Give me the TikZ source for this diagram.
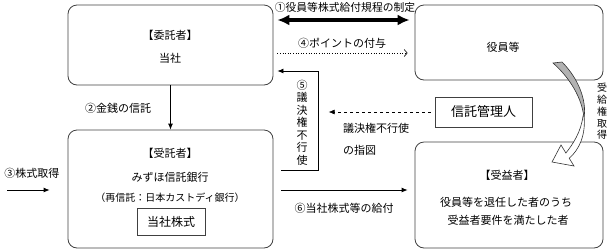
\documentclass[tikz,border=0pt]{standalone}
\usepackage{fontspec}
\setmainfont{Noto Sans CJK JP}
\usetikzlibrary{arrows.meta}

\begin{document}
\begin{tikzpicture}[x=1pt,y=-1pt,
  rbox/.style={draw=black!75,line width=0.8pt,rounded corners=9pt,inner sep=0pt},
  sbox/.style={draw=black!75,line width=0.7pt,inner sep=0pt},
  txt/.style={font=\fontsize{11}{13}\selectfont,inner sep=0pt},
  vtxt/.style={font=\fontsize{11}{12.5}\selectfont,align=center,inner sep=0pt},
  arr/.style={line width=0.8pt,-{Latex[length=6pt,width=5pt]}}]
\useasboundingbox (0,0) rectangle (613,250);

% boxes
\node[rbox,minimum width=205pt,minimum height=80pt] (itaku) at (170.5,45) {};
\node[rbox,minimum width=188pt,minimum height=75pt] (yakuin) at (509,42.5) {};
\node[rbox,minimum width=205pt,minimum height=118pt] (jutaku) at (170.5,189) {};
\node[rbox,minimum width=188pt,minimum height=106pt] (juekisha) at (509,195) {};
\node[sbox,minimum width=97pt,minimum height=30pt,font=\fontsize{13}{15}\selectfont] (kanri) at (483.5,112) {信託管理人};

% texts in boxes
\node[txt] (itaku-t1) at (170,35) {【委託者】};
\node[txt] (itaku-t2) at (170,58) {当社};
\node[txt] (yakuin-t) at (503,47) {役員等};
\node[txt] (jutaku-t1) at (170,153) {【受託者】};
\node[txt] (jutaku-t2) at (170,177) {みずほ信託銀行};
\node[txt,font=\fontsize{10}{12}\selectfont] (jutaku-t3) at (170,198) {（再信託：日本カストディ銀行）};
\node[sbox,minimum width=68pt,minimum height=27pt,font=\fontsize{12}{14}\selectfont] (kabu) at (171,221.5) {当社株式};
\node[txt] (jueki-t1) at (507,175) {【受益者】};
\node[txt] (jueki-t2) at (506,202) {役員等を退任した者のうち};
\node[txt] (jueki-t3) at (508,220) {受益者要件を満たした者};

% 1 and 4
\draw[line width=3.5pt,{Latex[length=12pt,width=11pt]}-{Latex[length=12pt,width=11pt]}]
  ([xshift=4pt]itaku.east |- 0,20) -- ([xshift=-5pt]yakuin.west |- 0,20);
\node[txt,font=\fontsize{10.8}{13}\selectfont] (l1) at (345,7) {①役員等株式給付規程の制定};
\draw[dotted,line width=0.6pt,-{Straight Barb[length=3pt,width=7pt]}]
  ([xshift=4pt]itaku.east |- 0,53) -- ([xshift=-7pt]yakuin.west |- 0,53);
\node[txt] (l4) at (342,43) {④ポイントの付与};

% 2 and 3
\draw[arr] (itaku.south) -- (jutaku.north);
\node[txt] (l2) at (118,108) {②金銭の信託};
\coordinate (s3) at (7,190);
\draw[arr] (s3) -- ([xshift=-18pt]jutaku.west |- s3);
\node[txt] (l3) at (32,173) {③株式取得};

% 5
\draw[arr] ([xshift=8pt]jutaku.east |- 0,170) -- ++(37,0) |- ([xshift=4pt]itaku.east |- 0,71);
\node[vtxt] (v5) at (302,122.5) {⑤\\議\\決\\権\\不\\行\\使};

% 6
\draw[arr] ([xshift=8pt]jutaku.east |- 0,190) -- ([xshift=-7pt]juekisha.west |- 0,190);
\node[txt] (l6) at (344,208) {⑥当社株式等の給付};

% instruction
\draw[dashed,line width=0.6pt,-{Latex[length=6pt,width=5pt]}] ([xshift=-4pt]kanri.west) -- ++(-102,0);
\node[txt,anchor=west] (l7a) at (343,128) {議決権不行使};
\node[txt,anchor=west] (l7b) at (343,150) {の指図};

% curved arrow
\filldraw[fill=black!30,draw=black!80,line width=0.6pt] (553,63) -- (562,62)
  .. controls (578,78) and (587,100) .. (584,118)
  .. controls (582,98) and (570,78) .. (553,63) -- cycle;
\filldraw[fill=white,draw=black!80,line width=0.6pt] (584,116)
  .. controls (586,135) and (579,150) .. (569.2,158.2) -- (574,166) -- (552,162) -- (561,145) -- (565.9,153)
  .. controls (573,144) and (581,132) .. (583,116) -- cycle;
\node[vtxt,font=\fontsize{10}{11.75}\selectfont] (v8) at (602,111.5) {受\\給\\権\\取\\得};
\end{tikzpicture}
\end{document}
